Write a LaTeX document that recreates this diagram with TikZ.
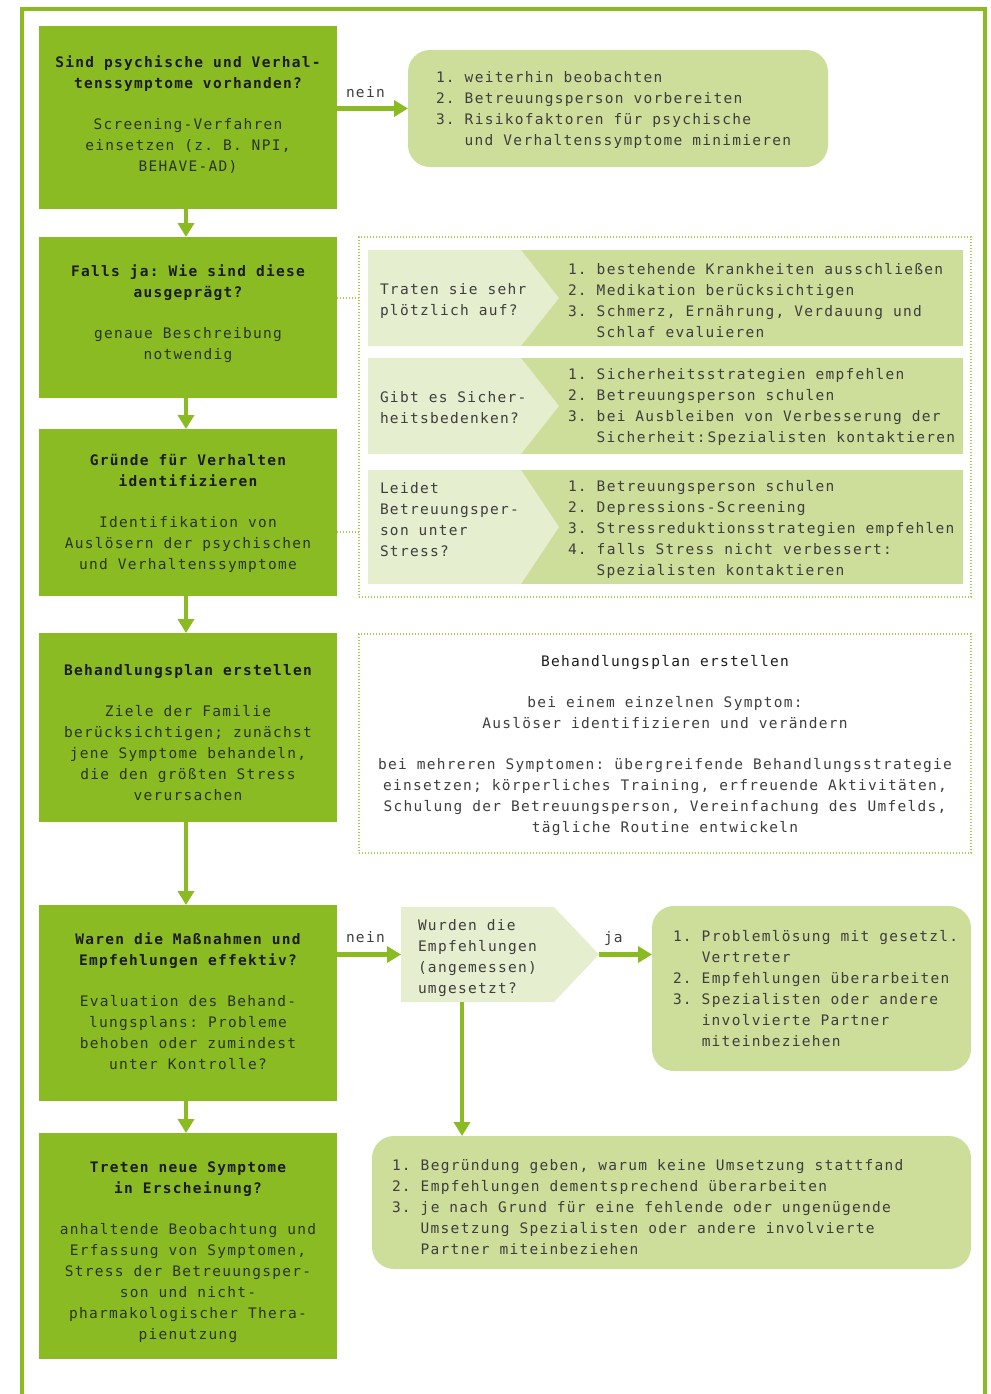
\documentclass[tikz,border=0pt]{standalone}
\usepackage{fontspec}
\newfontfamily\chartfont{DejaVu Sans Mono}[LetterSpace=8.8]
\usetikzlibrary{arrows.meta,calc}

% monospaced text with tracking; a word space takes exactly one character cell
\newlength\cellw
\newlength\onechar
\newcommand\setcell{\settowidth\onechar{n}\settowidth\cellw{nn}%
  \addtolength\cellw{-\onechar}\spaceskip=\cellw\relax\xspaceskip=\cellw\relax}
\newcommand\chartsize{\chartfont\fontsize{14.5pt}{21pt}\selectfont\setcell}
\newcommand\heading[1]{{\bfseries\setcell\color{ink}#1}}

\definecolor{leaf}{RGB}{138,187,34}
\definecolor{sage}{RGB}{205,221,154}
\definecolor{mist}{RGB}{229,238,206}
\definecolor{dotgreen}{RGB}{165,203,80}
\definecolor{ink}{RGB}{28,28,28}
\definecolor{inkbody}{RGB}{44,52,30}
\definecolor{inkgray}{RGB}{62,62,62}

\begin{document}
\begin{tikzpicture}[x=1pt,y=-1pt,
  every node/.style={inner sep=0pt, outer sep=0pt},
  font=\chartsize,
  stepbox/.style={fill=leaf, minimum width=298pt},
  steptext/.style={text width=296pt, align=flush center, text=inkbody},
  sagebox/.style={fill=sage, rounded corners=22pt},
  dotbox/.style={draw=dotgreen, line width=1.3pt, dash pattern=on 1.3pt off 1.7pt},
  dotline/.style={draw=dotgreen, line width=1.3pt, dash pattern=on 1.3pt off 1.7pt},
  listtext/.style={anchor=west, text width=420pt, align=flush left, text=inkgray},
  flow/.style={draw=leaf, line width=4.5pt, -{Triangle[width=16pt,length=14pt]}},
  flowlabel/.style={anchor=base west, text=inkgray}
]
\useasboundingbox (0,0) rectangle (990,1394);

% outer frame, open at the bottom
\draw[leaf, line width=4pt, line join=miter] (22,1394) -- (22,9) -- (985,9) -- (985,1394);

% main steps on the left
\node[stepbox, minimum height=183pt] (b1) at (188,117.5) {};
\node[stepbox, minimum height=161pt] (b2) at (188,317.5) {};
\node[stepbox, minimum height=167pt] (b3) at (188,512.5) {};
\node[stepbox, minimum height=189pt] (b4) at (188,727.5) {};
\node[stepbox, minimum height=196pt] (b5) at (188,1003) {};
\node[stepbox, minimum height=226pt] (b6) at (188,1246) {};

\node[steptext] (b1t) at (188,115)
  {\heading{Sind psychische und Verhal-\\tenssymptome vorhanden?}\\[20pt]
   Screening-Verfahren\\einsetzen (z. B. NPI,\\BEHAVE-AD)};
\node[steptext] (b2t) at (188,314)
  {\heading{Falls ja: Wie sind diese\\ausgeprägt?}\\[20pt]
   genaue Beschreibung\\notwendig};
\node[steptext] (b3t) at (188,513.5)
  {\heading{Gründe für Verhalten\\identifizieren}\\[20pt]
   Identifikation von\\Auslösern der psychischen\\und Verhaltenssymptome};
\node[steptext] (b4t) at (188,732.5)
  {\heading{Behandlungsplan erstellen}\\[20pt]
   Ziele der Familie\\berücksichtigen; zunächst\\jene Symptome behandeln,\\die den größten Stress\\verursachen};
\node[steptext] (b5t) at (188,1001)
  {\heading{Waren die Maßnahmen und\\Empfehlungen effektiv?}\\[20pt]
   Evaluation des Behand-\\lungsplans: Probleme\\behoben oder zumindest\\unter Kontrolle?};
\node[steptext] (b6t) at (188,1252)
  {\heading{Treten neue Symptome\\in Erscheinung?}\\[20pt]
   anhaltende Beobachtung und\\Erfassung von Symptomen,\\Stress der Betreuungsper-\\son und nicht-\\pharmakologischer Thera-\\pienutzung};

\foreach \a/\b in {b1/b2, b2/b3, b3/b4, b4/b5, b5/b6}
  \draw[flow] ([xshift=-2pt]\a.south) -- ([xshift=-2pt]\b.north);

% "no" branch at the top
\node[sagebox, minimum width=420pt, minimum height=117pt] (r1) at (618,108.5) {};
\node[listtext] (r1t) at (436,110.5)
  {1.~weiterhin beobachten\\
   2.~Betreuungsperson vorbereiten\\
   3.~Risikofaktoren für psychische\\
   \hphantom{3.~}und Verhaltenssymptome minimieren};
\draw[flow] (b1.east |- r1.west) -- (r1.west);
\node[flowlabel] (n1) at ($(b1.east |- r1.west)+(9,-11)$) {nein};

% questions on the severity of the symptoms
\node[dotbox, minimum width=612pt, minimum height=360pt] (c1) at (665,417) {};
\foreach \t/\m/\bt in {250/298/346, 358/406/454, 470/527/584}{
  \fill[sage] (368,\t) rectangle (963,\bt);
  \fill[mist] (368,\t) -- (521,\t) -- (559,\m) -- (521,\bt) -- (368,\bt) -- cycle;
}
\node[listtext] (q1) at (380,300.5) {Traten sie sehr\\plötzlich auf?};
\node[listtext] (a1) at (568,300.5)
  {1.~bestehende Krankheiten ausschließen\\
   2.~Medikation berücksichtigen\\
   3.~Schmerz, Ernährung, Verdauung und\\
   \hphantom{3.~}Schlaf evaluieren};
\node[listtext] (q2) at (380,408) {Gibt es Sicher-\\heitsbedenken?};
\node[listtext] (a2) at (568,407)
  {1.~Sicherheitsstrategien empfehlen\\
   2.~Betreuungsperson schulen\\
   3.~bei Ausbleiben von Verbesserung der\\
   \hphantom{3.~}Sicherheit:\hspace{2pt}Spezialisten kontaktieren};
\node[listtext] (q3) at (380,520) {Leidet\\Betreuungsper-\\son unter\\Stress?};
\node[listtext] (a3) at (568,529)
  {1.~Betreuungsperson schulen\\
   2.~Depressions-Screening\\
   3.~Stressreduktionsstrategien empfehlen\\
   4.~falls Stress nicht verbessert:\\
   \hphantom{4.~}Spezialisten kontaktieren};
\coordinate (k1) at (359,298);
\coordinate (k3) at (359,532);
\draw[dotline] (b2.east |- k1) -- (k1);
\draw[dotline] (b3.east |- k3) -- (k3);

% treatment plan details
\node[dotbox, minimum width=612pt, minimum height=219pt] (c2) at (665,743.5) {};
\node[text width=606pt, align=flush center, text=inkgray] (c2t) at (665,745.5)
  {\textcolor{ink}{Behandlungsplan erstellen}\\[20pt]
   bei einem einzelnen Symptom:\\
   Auslöser identifizieren und verändern\\[20pt]
   bei mehreren Symptomen: übergreifende Behandlungsstrategie\\
   einsetzen; körperliches Training, erfreuende Aktivitäten,\\
   Schulung der Betreuungsperson, Vereinfachung des Umfelds,\\
   tägliche Routine entwickeln};

% evaluation branch
\fill[mist] (401,907) -- (554,907) -- (599,954.5) -- (554,1002) -- (401,1002) -- cycle;
\coordinate (win) at (401,954.5);
\coordinate (wtip) at (599,954.5);
\coordinate (wbot) at (462,1002);
\node[listtext] (wq) at (418,958.5)
  {Wurden die\\Empfehlungen\\(angemessen)\\umgesetzt?};

\node[sagebox, minimum width=319pt, minimum height=165pt] (r2) at (811.5,988.5) {};
\node[listtext] (r2t) at (673,988.5)
  {1.~Problemlösung mit gesetzl.\\
   \hphantom{1.~}Vertreter\\
   2.~Empfehlungen überarbeiten\\
   3.~Spezialisten oder andere\\
   \hphantom{3.~}involvierte Partner\\
   \hphantom{3.~}miteinbeziehen};

\node[sagebox, minimum width=599pt, minimum height=133pt] (r3) at (671.5,1202.5) {};
\node[listtext, text width=560pt] (r3t) at (392,1207)
  {1.~Begründung geben, warum keine Umsetzung stattfand\\
   2.~Empfehlungen dementsprechend überarbeiten\\
   3.~je nach Grund für eine fehlende oder ungenügende\\
   \hphantom{3.~}Umsetzung Spezialisten oder andere involvierte\\
   \hphantom{3.~}Partner miteinbeziehen};

\draw[flow] (b5.east |- win) -- (win);
\node[flowlabel] (n2) at ($(b5.east |- win)+(9,-12)$) {nein};
\draw[flow] (wtip) -- (r2.west |- wtip);
\node[flowlabel] (j1) at ($(wtip)+(5,-12)$) {ja};
\draw[flow] (wbot) -- (r3.north -| wbot);
\end{tikzpicture}
\end{document}
